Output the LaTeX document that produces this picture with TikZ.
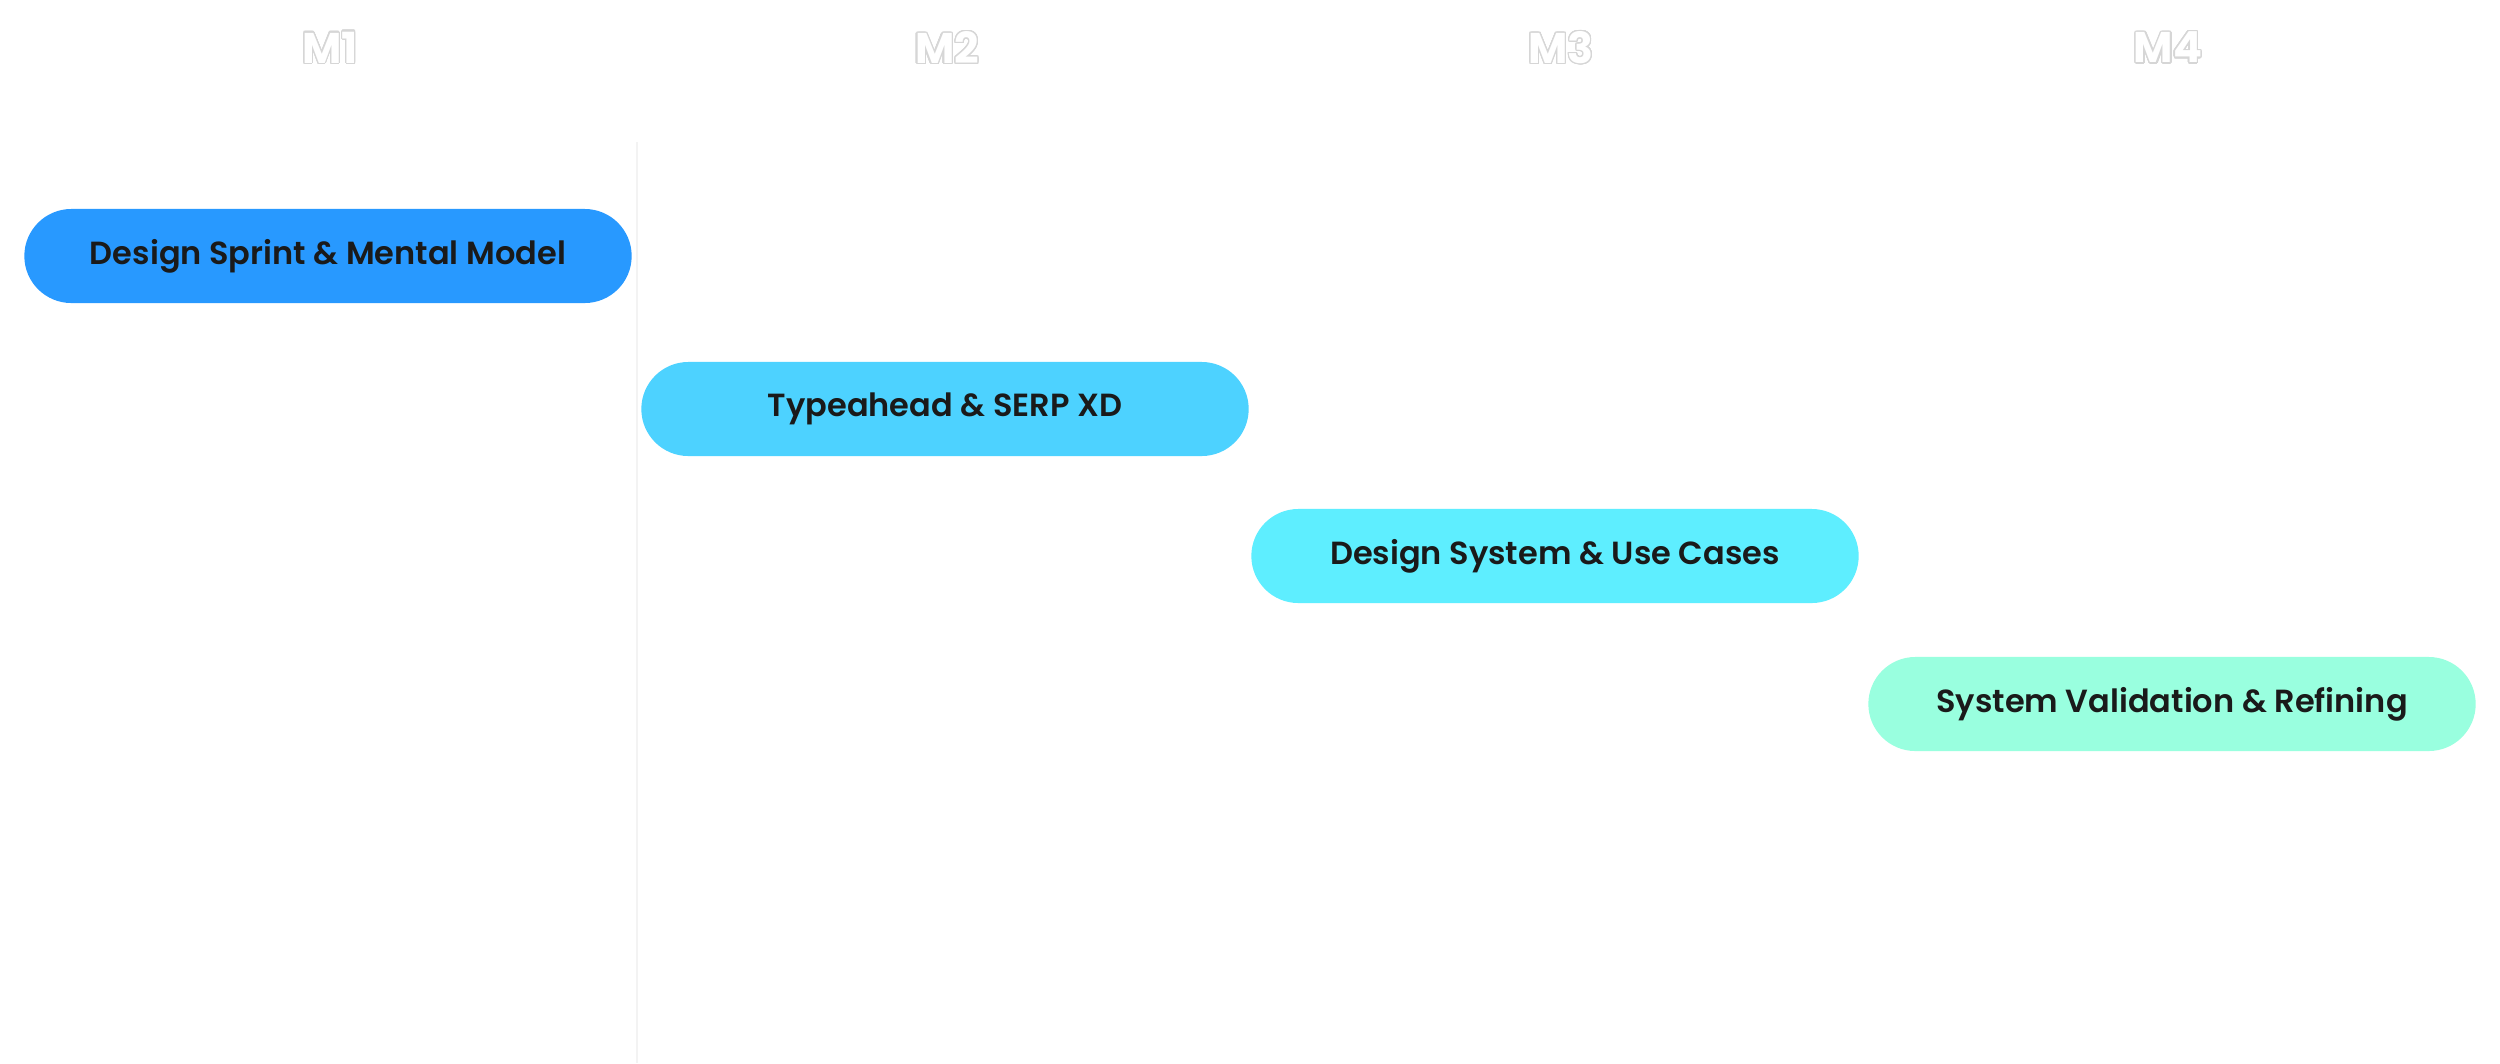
\documentclass[tikz,border=0pt]{standalone}
\usepackage{fontspec}
\setmainfont{Poppins}
\newfontfamily\semib{Poppins SemiBold}
\usepackage{contour}
\contourlength{0.35pt}
\contournumber{24}
\definecolor{pillA}{HTML}{2899FF}
\definecolor{pillB}{HTML}{4DD2FF}
\definecolor{pillC}{HTML}{5EEEFF}
\definecolor{pillD}{HTML}{99FFDF}
\definecolor{txt}{HTML}{1A1A1A}
\definecolor{gridline}{HTML}{F3F3F3}
\definecolor{outl}{HTML}{D6D6D6}
\begin{document}
\begin{tikzpicture}[x=0.01cm,y=-0.01cm,
  pill/.style={rectangle, rounded corners=0.47cm, minimum width=6.07cm, minimum height=0.94cm,
    inner sep=0pt, font=\fontsize{9.1pt}{10pt}\semib, text=txt},
  head/.style={font=\fontsize{12.2pt}{14pt}\selectfont\bfseries, text=white, inner sep=0pt}]
\useasboundingbox[fill=white] (0,0) rectangle (2500,1063);
\coordinate (ltop) at (637,142);
\coordinate (lbot) at (637,1063);
\draw[gridline, line width=0.6pt] (ltop) -- (lbot);
\node[head] (m1) at (330,48) {\contour{outl}{M1}};
\node[head] (m2) at (947,48) {\contour{outl}{M2}};
\node[head] (m3) at (1561,48) {\contour{outl}{M3}};
\node[head] (m4) at (2168,48) {\contour{outl}{M4}};
\node[pill, fill=pillA] (p1) at (328,256) {Design Sprint \& Mental Model};
\node[pill, fill=pillB] (p2) at (945,409) {Typeahead \& SERP XD};
\node[pill, fill=pillC] (p3) at (1555,556) {Design System \& Use Cases};
\node[pill, fill=pillD] (p4) at (2172,704) {System Validation \& Refining};
\end{tikzpicture}
\end{document}
